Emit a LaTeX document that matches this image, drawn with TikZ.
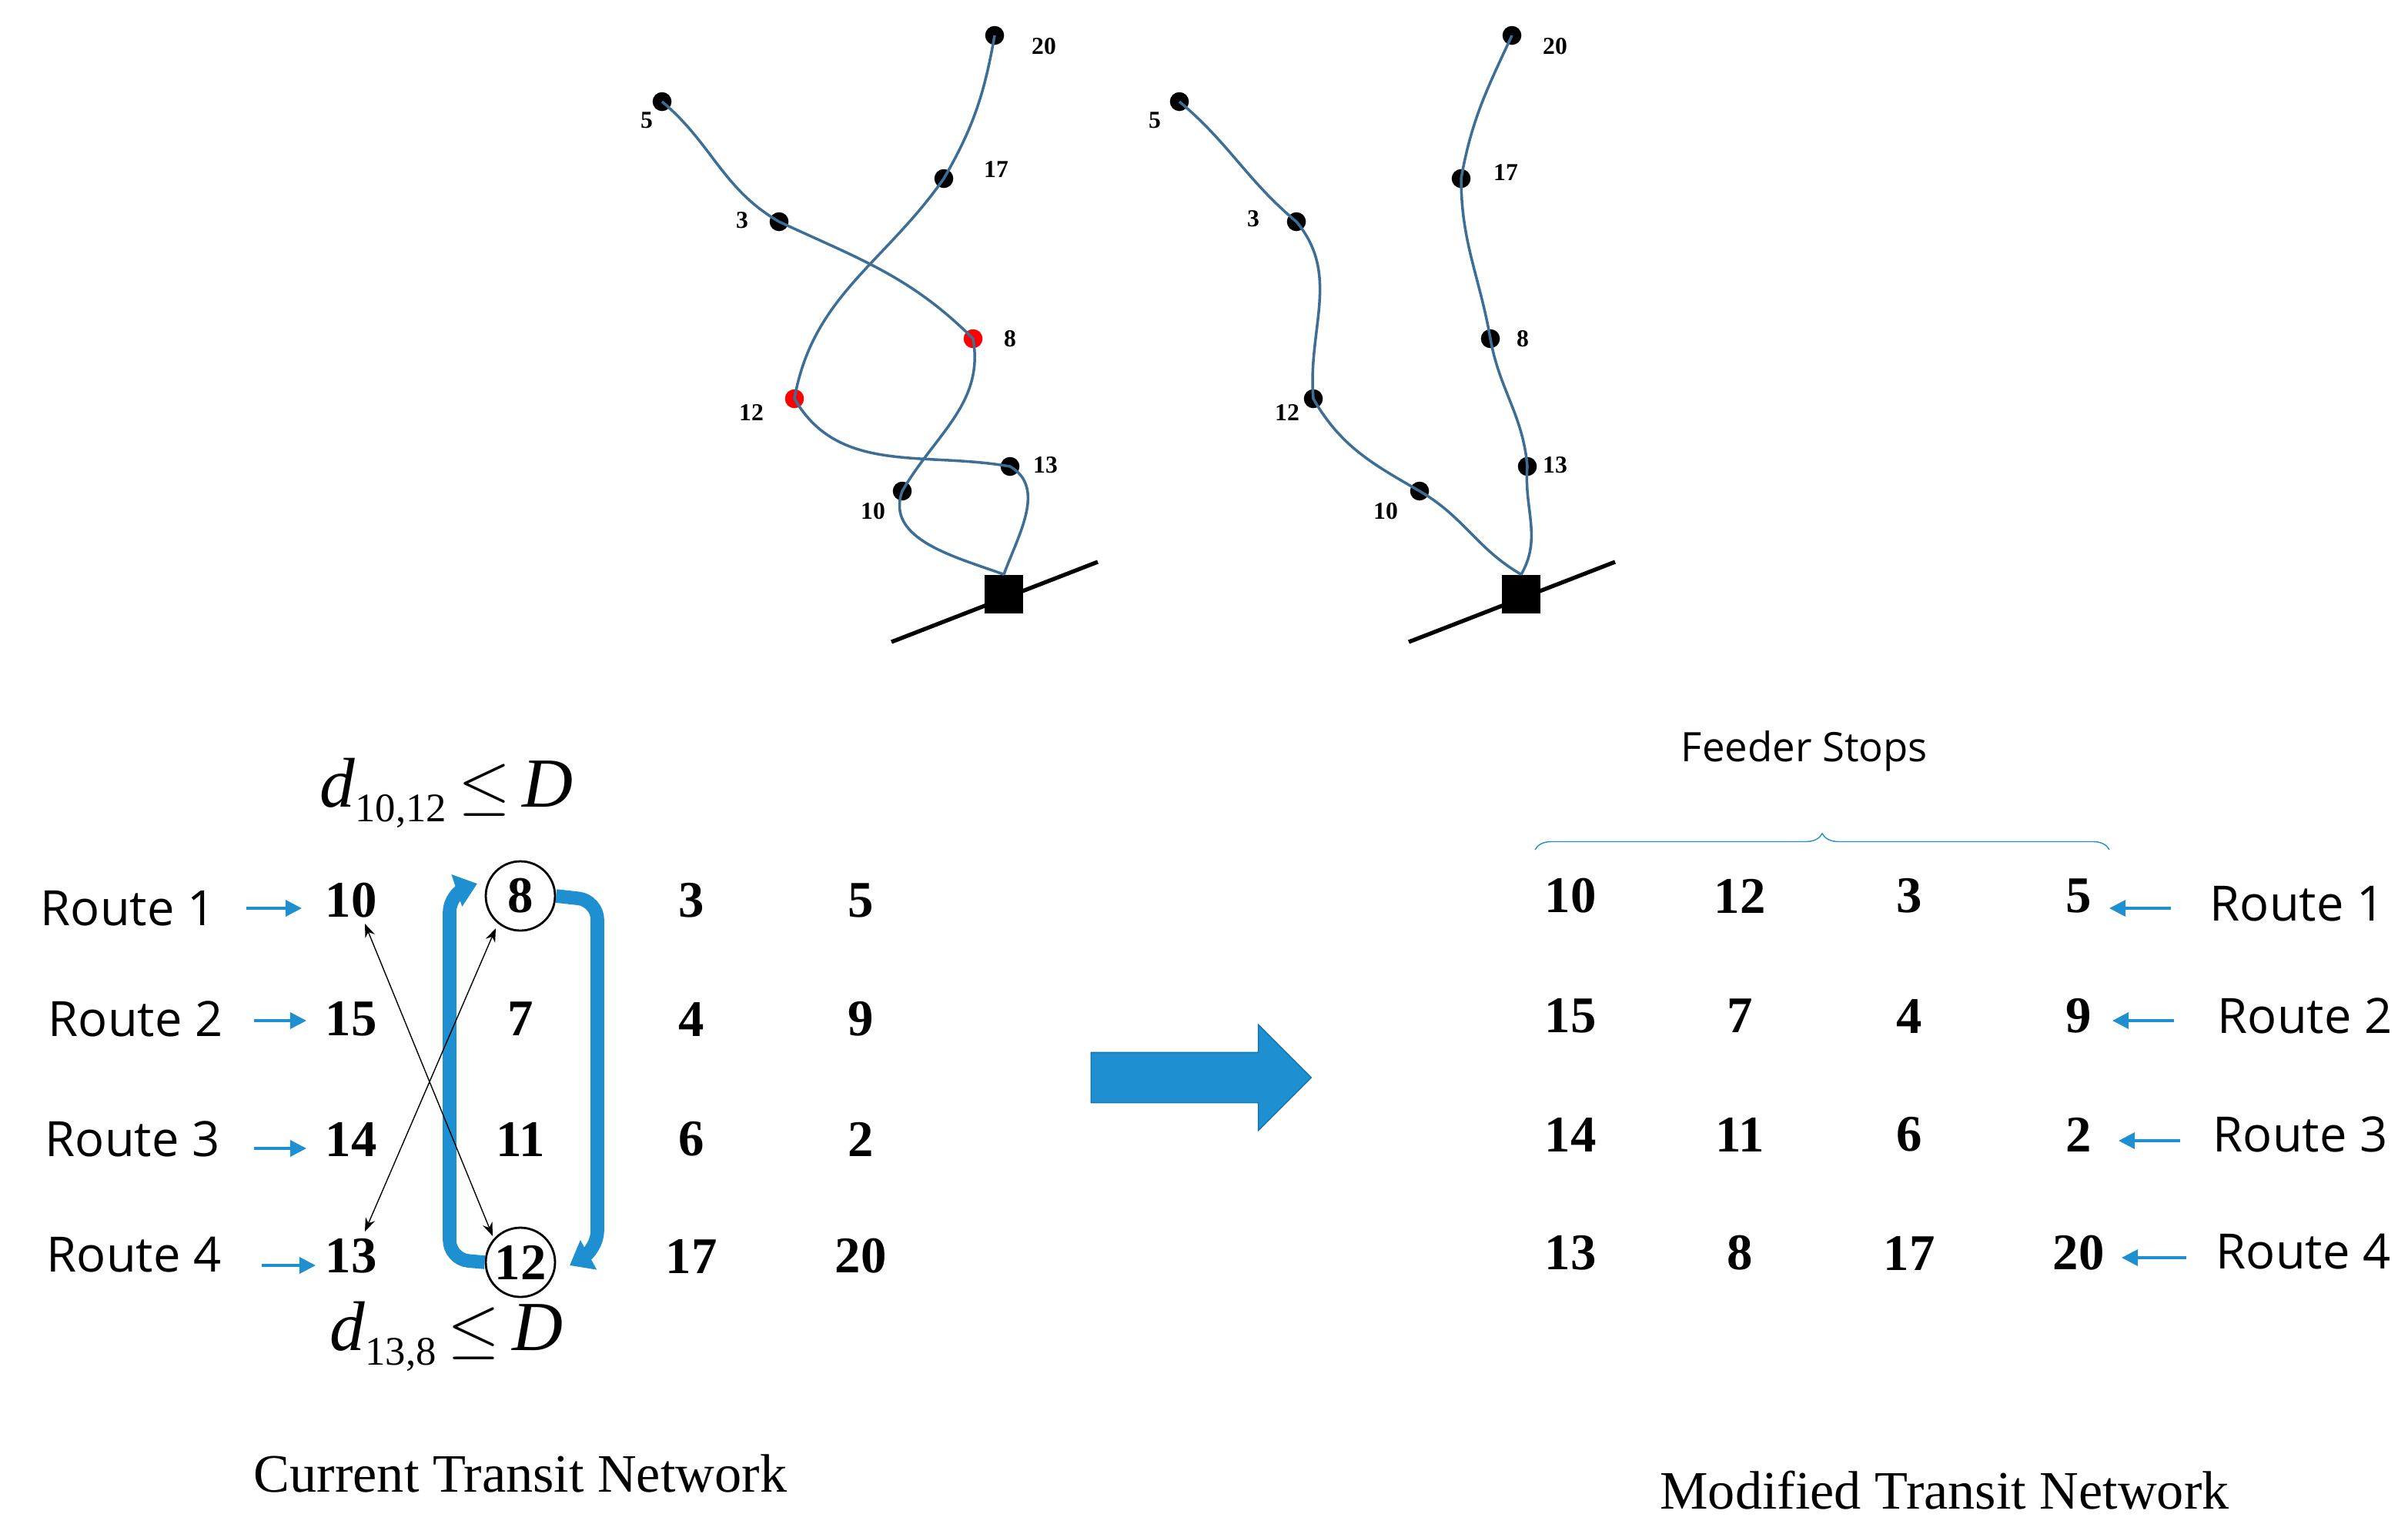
\documentclass[tikz,border=0pt]{standalone}
\usepackage{fontspec}
\setmainfont{Liberation Serif}
\newfontfamily\rsans{Open Sans}
\usetikzlibrary{arrows.meta,decorations.pathreplacing,shapes.arrows}
\definecolor{rt}{RGB}{60,110,150}
\definecolor{bl}{RGB}{30,144,210}
\newcommand{\dlab}[1]{{\itshape d}\raisebox{-0.45ex}{\fontsize{15}{15}\selectfont #1}\,$\le$\,{\itshape D}}
\begin{document}
\begin{tikzpicture}[x=0.02cm,y=-0.02cm,
 stop/.style={circle,fill=black,inner sep=0pt,minimum size=7pt},
 rstop/.style={circle,fill=red,inner sep=0pt,minimum size=7pt},
 lab/.style={font=\bfseries\fontsize{9}{10}\selectfont},
 route/.style={rt,line width=1pt},
 num/.style={font=\fontsize{19}{20}\selectfont\bfseries},
 rl/.style={font=\rsans\fontsize{18}{20}\selectfont},
 sa/.style={bl,line width=1pt,-{Triangle[length=6pt,width=6pt]}},
 cir/.style={num,draw,circle,thick,inner sep=0pt,minimum size=0.9cm},
 ca/.style={font=\fontsize{20}{22}\selectfont}]
\useasboundingbox (0,0) rectangle (1564,989.5);
% ---- left network
\node[stop] (a5) at (430,66) {}; \node[stop] (a3) at (506,144) {};
\node[rstop] (a8) at (632,220) {}; \node[rstop] (a12) at (516,259) {};
\node[stop] (a13) at (656,303) {}; \node[stop] (a10) at (586,319) {};
\node[stop] (a17) at (613,116) {}; \node[stop] (a20) at (646,23) {};
\node[fill=black,minimum size=0.5cm,inner sep=0pt] (ad) at (652,386) {};
\coordinate (al1) at (579,417); \coordinate (al2) at (713,365);
\draw[line width=1.5pt] (al1) -- (al2);
\draw[route] (a5.center) to[out=-40,in=150] (a3.center) to[out=-25,in=135] (a8.center) to[out=-80,in=60] (a10.center) to[out=-110,in=160] (ad.north);
\draw[route] (a20.center) to[out=-100,in=60] (a17.center) to[out=-125,in=80] (a12.center) to[out=-60,in=170] (a13.center) to[out=-30,in=70] (ad.north);
\node[lab] at (420,78) {5}; \node[lab] at (482,143) {3}; \node[lab] at (656,220) {8};
\node[lab] at (488,268) {12}; \node[lab] at (679,302) {13}; \node[lab] at (567,332) {10};
\node[lab] at (647,110) {17}; \node[lab] at (678,30) {20};
% ---- right network
\node[stop] (b5) at (766,66) {}; \node[stop] (b3) at (842,144) {};
\node[stop] (b12) at (853,259) {}; \node[stop] (b10) at (922,319) {};
\node[stop] (b20) at (982,23) {}; \node[stop] (b17) at (949,116) {};
\node[stop] (b8) at (968,220) {}; \node[stop] (b13) at (992,303) {};
\node[fill=black,minimum size=0.5cm,inner sep=0pt] (bd) at (988,386) {};
\coordinate (bl1) at (915,417); \coordinate (bl2) at (1049,365);
\draw[line width=1.5pt] (bl1) -- (bl2);
\draw[route] (b5.center) to[out=-40,in=140] (b3.center) to[out=-50,in=95] (b12.center) to[out=-60,in=150] (b10.center) to[out=-30,in=150] (bd.north);
\draw[route] (b20.center) to[out=-115,in=80] (b17.center) to[out=-90,in=100] (b8.center) to[out=-80,in=95] (b13.center) to[out=-95,in=60] (bd.north);
\node[lab] at (750,78) {5}; \node[lab] at (814,142) {3}; \node[lab] at (836,268) {12};
\node[lab] at (900,332) {10}; \node[lab] at (978,112) {17}; \node[lab] at (989,220) {8};
\node[lab] at (1010,302) {13}; \node[lab] at (1010,30) {20};
% ---- left table
\foreach \n/\x/\y in {10/228/585,3/449/585,5/559/585,15/228/662,7/338/662,4/449/662,9/559/662,14/228/740,11/338/740,6/449/740,2/559/740,13/228/816,17/449/816,20/559/816}
  \node[num] (l\n) at (\x,\y) {\n};
\node[cir] (l8) at (338,582) {8};
\node[cir] (l12) at (338,820) {12};
\node[rl] (r1) at (83,590) {Route 1}; \node[rl] (r2) at (88,662) {Route 2};
\node[rl] (r3) at (86,740) {Route 3}; \node[rl] (r4) at (87,815) {Route 4};
\coordinate (t1) at (196,590); \coordinate (t2) at (199,663);
\coordinate (t3) at (199,746); \coordinate (t4) at (205,822);
\draw[sa] (160,590) -- (t1);
\draw[sa] (165,663) -- (t2);
\draw[sa] (165,746) -- (t3);
\draw[sa] (170,822) -- (t4);
\draw[bl,line width=5pt,rounded corners=7pt,-{Triangle[length=8pt,width=12pt]}] (l12.west) -- (292,818) -- (292,580) -- (310,574);
\draw[bl,line width=5pt,rounded corners=7pt,-{Triangle[length=8pt,width=12pt]}] (l8.east) -- (388,585) -- (388,812) -- (370,822);
\coordinate (c10) at (237,600); \coordinate (c12) at (320,803);
\coordinate (c8) at (322,603); \coordinate (c13) at (237,800);
\draw[{Stealth[length=5pt]}-{Stealth[length=5pt]},thin] (c10) -- (c12);
\draw[{Stealth[length=5pt]}-{Stealth[length=5pt]},thin] (c8) -- (c13);
\node[font=\fontsize{26}{28}\selectfont] (dt) at (290,515) {\dlab{10,12}};
\node[font=\fontsize{26}{28}\selectfont] (db) at (290,868) {\dlab{13,8}};
\node[ca] (cap1) at (338,957) {Current Transit Network};
% ---- big arrow
\node[single arrow,fill=bl,draw=bl!80!black,thin,minimum height=2.86cm,single arrow head extend=0.36cm,inner sep=0pt] (big) at (772,700) {\rule{0pt}{0.64cm}};
% ---- right table
\foreach \n/\x/\y in {10/1020/582,12/1130/582,3/1240/582,5/1350/582,15/1020/660,7/1130/660,4/1240/660,9/1350/660,14/1020/737,11/1130/737,6/1240/737,2/1350/737,13/1020/814,8/1130/814,17/1240/814,20/1350/814}
  \node[num] (m\n) at (\x,\y) {\n};
\node[rl] (q1) at (1492,587) {Route 1}; \node[rl] (q2) at (1497,660) {Route 2};
\node[rl] (q3) at (1494,737) {Route 3}; \node[rl] (q4) at (1496,813) {Route 4};
\coordinate (u1) at (1370,590); \coordinate (u2) at (1372,663);
\coordinate (u3) at (1376,741); \coordinate (u4) at (1378,817);
\draw[sa] (1410,590) -- (u1);
\draw[sa] (1412,663) -- (u2);
\draw[sa] (1416,741) -- (u3);
\draw[sa] (1420,817) -- (u4);
\node[font=\rsans\fontsize{15}{16}\selectfont] (fs) at (1172,488) {Feeder Stops};
\draw[bl,thin,decorate,decoration={brace,amplitude=6pt}] (997,552) -- (1370,552);
\node[ca] (cap2) at (1263,968) {Modified Transit Network};
\end{tikzpicture}
\end{document}
